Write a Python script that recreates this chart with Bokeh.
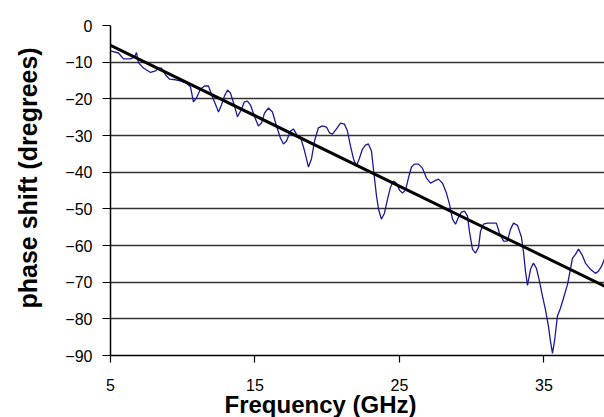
from bokeh.plotting import figure
from bokeh.models import Range1d, FixedTicker, Title, ColumnDataSource
from bokeh.embed import file_html
from bokeh.resources import INLINE

# ---- data ----
freq_ghz = [5.00, 5.55, 5.90, 6.38, 6.66, 6.80, 6.94, 7.28, 7.77, 8.11, 8.32, 8.53, 8.81, 9.08,
            9.50, 9.84, 10.26, 10.54, 10.74, 10.95, 11.23, 11.51, 11.78, 12.06, 12.34, 12.47,
            12.68, 12.89, 13.10, 13.30, 13.58, 13.79, 14.07, 14.27, 14.48, 14.69, 14.97, 15.24,
            15.45, 15.66, 15.93, 16.21, 16.49, 16.76, 16.97, 17.18, 17.46, 17.66, 17.94, 18.15,
            18.43, 18.70, 18.91, 19.12, 19.39, 19.67, 19.95, 20.16, 20.36, 20.64, 20.92, 21.19,
            21.40, 21.61, 21.82, 22.02, 22.23, 22.44, 22.65, 22.85, 23.06, 23.20, 23.41, 23.55,
            23.75, 23.96, 24.17, 24.38, 24.58, 24.79, 25.00, 25.21, 25.42, 25.62, 25.83, 26.04,
            26.31, 26.59, 26.87, 27.15, 27.42, 27.70, 27.98, 28.25, 28.46, 28.67, 28.88, 29.08,
            29.29, 29.50, 29.71, 29.84, 30.05, 30.26, 30.47, 30.61, 30.81, 31.09, 31.44, 31.71,
            31.92, 32.20, 32.47, 32.68, 32.89, 33.17, 33.44, 33.58, 33.72, 33.86, 34.07, 34.27,
            34.48, 34.69, 34.90, 35.10, 35.31, 35.45, 35.59, 35.73, 35.93, 36.14, 36.35, 36.63,
            36.83, 36.97, 37.18, 37.39, 37.66, 37.87, 38.22, 38.56, 38.77, 38.98, 39.19]
phase_deg = [-6.9, -7.5, -9.1, -9.1, -8.6, -7.4, -10.2, -11.6, -12.8, -12.4, -11.6, -11.6, -13.5,
             -14.6, -14.8, -15.1, -15.7, -16.8, -20.8, -19.8, -17.3, -16.5, -16.5, -19.5, -22.2,
             -23.6, -21.7, -19.2, -17.6, -18.4, -21.9, -24.9, -22.8, -20.8, -20.6, -21.7, -24.9,
             -27.4, -26.6, -23.9, -22.5, -23.6, -27.4, -30.7, -32.3, -31.5, -28.8, -28.2, -30.1,
             -30.4, -34.2, -38.6, -36.4, -31.5, -27.9, -27.4, -27.7, -29.3, -29.6, -28.2, -26.6,
             -26.9, -28.8, -32.9, -36.4, -38.3, -36.2, -33.7, -32.6, -32.3, -34.2, -39.2, -46.5,
             -50.1, -52.8, -51.2, -47.4, -44.1, -42.4, -43.0, -44.9, -45.7, -44.9, -41.6, -38.6,
             -37.8, -37.8, -38.9, -41.6, -43.0, -42.4, -41.9, -43.0, -45.7, -48.7, -52.8, -54.2,
             -52.3, -50.9, -50.6, -52.0, -56.1, -61.0, -62.1, -60.5, -56.1, -54.2, -53.9, -53.9,
             -53.9, -56.6, -58.8, -58.8, -55.6, -53.9, -54.5, -57.7, -61.6, -67.0, -70.9, -66.5,
             -64.8, -66.2, -69.8, -73.9, -77.4, -82.0, -86.1, -89.4, -86.1, -79.3, -77.1, -74.4,
             -70.6, -66.5, -63.5, -62.4, -61.0, -62.7, -64.8, -66.5, -67.6, -67.0, -65.7, -63.7]
trend_x = [5.0, 39.2]
trend_y = [-5.4, -71.1]
x_ticks = [5, 15, 25, 35]
y_ticks = [0, -10, -20, -30, -40, -50, -60, -70, -80, -90]
x_title = "Frequency (GHz)"
y_title = "phase shift (dregrees)"

p = figure(width=614, height=417, output_backend="svg", toolbar_location=None,
           x_range=Range1d(5, 39.19), y_range=Range1d(-90, 0),
           min_border_left=120, min_border_right=0, min_border_top=25, min_border_bottom=62)
p.margin = (0, 0, 0, -10)
p.outline_line_color = None
p.background_fill_color = "white"
p.border_fill_color = "white"

p.xgrid.visible = False
p.ygrid.ticker = FixedTicker(ticks=y_ticks)
p.ygrid.grid_line_color = "#333333"
p.ygrid.grid_line_width = 1.5

for ax in (p.xaxis[0], p.yaxis[0]):
    ax.axis_line_color = "black"
    ax.axis_line_width = 1.5
    ax.major_tick_line_color = "black"
    ax.major_tick_line_width = 1.2
    ax.minor_tick_line_color = None
    ax.major_tick_in = 0
    ax.major_label_text_font = "Liberation Sans"
    ax.major_label_text_font_size = "16px"
    ax.major_label_text_color = "black"

p.xaxis.ticker = FixedTicker(ticks=x_ticks)
p.xaxis.major_tick_out = 7
p.xaxis.major_label_standoff = 16
p.yaxis.ticker = FixedTicker(ticks=y_ticks)
p.yaxis.major_tick_out = 8
p.yaxis.major_label_standoff = 10

src = ColumnDataSource(data=dict(x=freq_ghz, y=phase_deg))
p.line("x", "y", source=src, line_color="#1a1a99", line_width=1.3)
p.line(trend_x, trend_y, line_color="black", line_width=3)

p.add_layout(Title(text=x_title, align="left", offset=114, standoff=-9,
                   text_font="Liberation Sans", text_font_style="bold",
                   text_font_size="24px", text_color="black"), "below")
p.add_layout(Title(text=y_title, align="left", offset=47, standoff=42,
                   text_font="Liberation Sans", text_font_style="bold",
                   text_font_size="25px", text_color="black"), "left")

open("out.html", "w").write(file_html(p, INLINE))
